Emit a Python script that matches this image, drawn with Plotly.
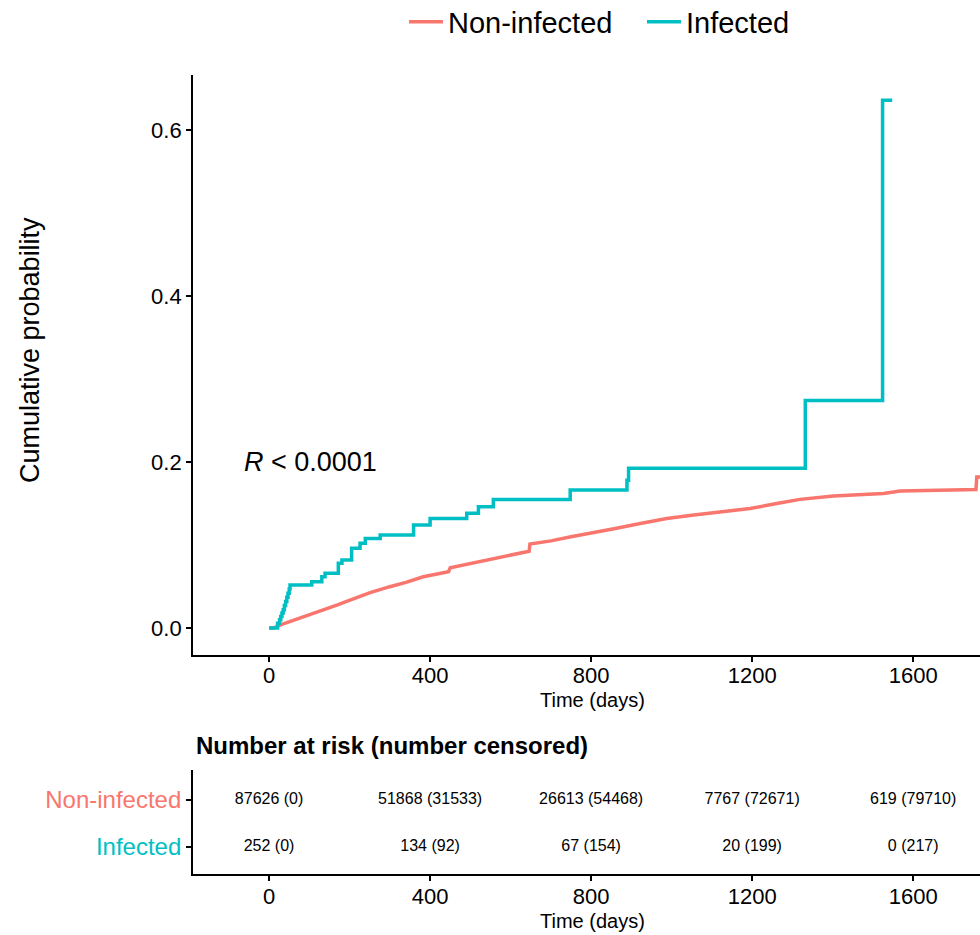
import plotly.graph_objects as go

# ---------------- data ----------------
groups = ["Non-infected", "Infected"]
colors = ["#F8766D", "#00BFC4"]

# Non-infected cumulative incidence (time in days, probability)
t_non = [0, 11, 30, 52, 90, 135, 170, 201, 251, 300, 340, 383, 441, 446, 450, 500, 549,
         600, 640, 646, 648, 700, 750, 797, 860, 922, 988, 1050, 1120, 1195, 1261,
         1319, 1402, 1460, 1526, 1568, 1650, 1756, 1758, 1800]
p_non = [0.0, 0.0, 0.004, 0.0076, 0.014, 0.0217, 0.028, 0.0337, 0.0426, 0.0498, 0.055,
         0.0618, 0.0679, 0.0679, 0.0727, 0.078, 0.0827, 0.088, 0.0920, 0.0925, 0.1012,
         0.105, 0.110, 0.114, 0.120, 0.126, 0.132, 0.136, 0.140, 0.144, 0.150, 0.155,
         0.159, 0.160, 0.162, 0.165, 0.166, 0.167, 0.182, 0.182]

# Infected cumulative incidence (step function)
t_inf = [0, 7, 21, 26, 29, 32, 35, 38, 41, 44, 47, 50, 52, 106, 131, 139, 172, 181,
         205, 226, 239, 276, 359, 400, 491, 520, 557, 748, 889, 893, 1332, 1524, 1548]
p_inf = [0.0, 0.0, 0.0057, 0.010, 0.014, 0.018, 0.022, 0.027, 0.032, 0.037, 0.042,
         0.047, 0.0518, 0.0558, 0.0618, 0.0659, 0.0779, 0.0819, 0.0960, 0.1020, 0.1080,
         0.1120, 0.1241, 0.1321, 0.1382, 0.1462, 0.1550, 0.1663, 0.178, 0.1924, 0.2740,
         0.6360, 0.6360]

# Risk table
risk_times = [0, 400, 800, 1200, 1600]
risk_non = ["87626 (0)", "51868 (31533)", "26613 (54468)", "7767 (72671)", "619 (79710)"]
risk_inf = ["252 (0)", "134 (92)", "67 (154)", "20 (199)", "0 (217)"]

x_ticks = [0, 400, 800, 1200, 1600]
y_ticks = [0.0, 0.2, 0.4, 0.6]
p_label = "<i>R</i> &lt; 0.0001"

FONT = "Liberation Sans, Arial, sans-serif"
W, H = 980, 935

fig = go.Figure()
fig.add_trace(go.Scatter(x=t_non, y=p_non, mode="lines", name=groups[0],
                         line=dict(color=colors[0], width=3.5, shape="linear"),
                         xaxis="x", yaxis="y"))
fig.add_trace(go.Scatter(x=t_inf, y=p_inf, mode="lines", name=groups[1],
                         line=dict(color=colors[1], width=3.5, shape="hv"),
                         xaxis="x", yaxis="y"))

# risk table text
fig.add_trace(go.Scatter(x=risk_times, y=[2] * len(risk_times), mode="text",
                         text=risk_non, textfont=dict(size=16, color="black", family=FONT),
                         showlegend=False, xaxis="x2", yaxis="y2", hoverinfo="skip"))
fig.add_trace(go.Scatter(x=risk_times, y=[1] * len(risk_times), mode="text",
                         text=risk_inf, textfont=dict(size=16, color="black", family=FONT),
                         showlegend=False, xaxis="x2", yaxis="y2", hoverinfo="skip"))

xr = [-189, 1766]
xdom = [193 / W, 1.0]
axis_common = dict(showline=True, linecolor="black", linewidth=1.8, ticks="outside",
                   ticklen=5, tickwidth=1.5, tickcolor="black", showgrid=False,
                   zeroline=False, tickfont=dict(size=22, color="black", family=FONT))

fig.update_layout(
    width=W, height=H,
    margin=dict(l=0, r=0, t=0, b=0, autoexpand=False),
    paper_bgcolor="white", plot_bgcolor="white",
    font=dict(family=FONT, color="black"),
    xaxis=dict(domain=xdom, range=xr, tickvals=x_ticks, anchor="y",
               ticklabelstandoff=-5, **axis_common),
    yaxis=dict(domain=[1 - 655 / H, 1 - 75 / H], range=[-0.0325, 0.6663],
               tickvals=y_ticks, tickformat=".1f", anchor="x", **axis_common),
    xaxis2=dict(domain=xdom, range=xr, tickvals=x_ticks, anchor="y2",
                ticklabelstandoff=-3, **axis_common),
    yaxis2=dict(domain=[1 - 874 / H, 1 - 770 / H], range=[0.4255, 2.638],
                tickvals=[2, 1],
                ticktext=[f'<span style="color:{colors[0]}">{groups[0]}</span>',
                          f'<span style="color:{colors[1]}">{groups[1]}</span>'],
                anchor="x2", **{**axis_common, "tickfont": dict(size=24, family=FONT)}),
    legend=dict(orientation="h", x=404 / W, xanchor="left", y=1 - 22 / H, yanchor="middle",
                font=dict(size=29, color="black", family=FONT),
                bgcolor="rgba(0,0,0,0)", itemwidth=34, entrywidth=233 - 44,
                tracegroupgap=0),
    showlegend=True,
)

annotations = [
    dict(text="Cumulative probability", x=30 / W, y=1 - 350 / H, xref="paper", yref="paper",
         xanchor="center", yanchor="middle",
         textangle=-90, showarrow=False, font=dict(size=27, color="black", family=FONT)),
    dict(text=p_label, x=102, y=0.2, xref="x", yref="y", showarrow=False,
         xanchor="center", yanchor="middle",
         font=dict(size=27, color="black", family=FONT)),
    dict(text="Time (days)", x=592 / W, y=1 - 700 / H, xref="paper", yref="paper",
         xanchor="center", yanchor="middle",
         showarrow=False, font=dict(size=20, color="black", family=FONT)),
    dict(text="<b>Number at risk (number censored)</b>", x=194 / W, y=1 - 745 / H,
         xref="paper", yref="paper", xanchor="left", yanchor="middle", showarrow=False,
         font=dict(size=24, color="black", family=FONT)),
    dict(text="Time (days)", x=592 / W, y=1 - 921 / H, xref="paper", yref="paper",
         xanchor="center", yanchor="middle",
         showarrow=False, font=dict(size=20, color="black", family=FONT)),
]
fig.update_layout(annotations=annotations)

fig.write_html("out.html")
